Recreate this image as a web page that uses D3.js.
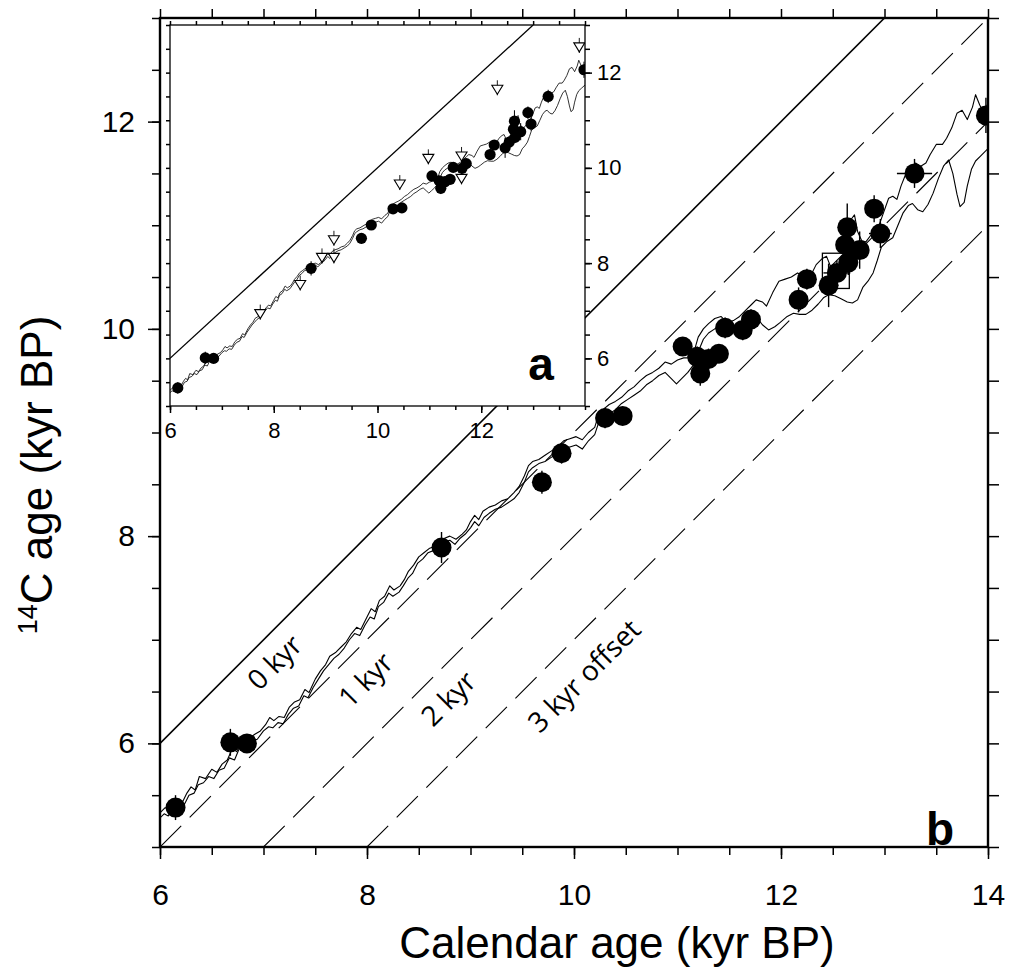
<!DOCTYPE html>
<html>
<head>
<meta charset="utf-8">
<script src="https://cdn.jsdelivr.net/npm/d3@7"></script>
<style>
  body { margin: 0; background: #fff; }
  svg { display: block; }
</style>
</head>
<body>
<svg id="chart" width="1011" height="967"></svg>
<script>
// calibration curves, [calendar kyr BP, 14C kyr BP]
const curveA = [
  [6.00,5.33],[6.05,5.38],[6.10,5.35],[6.16,5.42],[6.22,5.44],[6.26,5.52],[6.30,5.58],[6.34,5.55],
  [6.38,5.68],[6.44,5.66],[6.50,5.75],[6.55,5.72],[6.60,5.80],[6.65,5.84],[6.70,5.95],[6.74,5.92],
  [6.80,6.03],[6.86,6.05],[6.92,6.09],[6.97,6.12],[7.02,6.18],[7.06,6.25],[7.10,6.22],[7.15,6.26],
  [7.20,6.25],[7.25,6.35],[7.30,6.40],[7.35,6.42],[7.40,6.52],[7.44,6.49],[7.50,6.62],[7.55,6.70],
  [7.60,6.76],[7.64,6.84],[7.70,6.88],[7.75,6.93],[7.80,6.98],[7.85,7.06],[7.90,7.12],[7.94,7.10],
  [8.00,7.22],[8.04,7.30],[8.08,7.27],[8.12,7.38],[8.17,7.42],[8.22,7.52],[8.26,7.48],[8.32,7.52],
  [8.36,7.58],[8.40,7.66],[8.45,7.72],[8.50,7.80],[8.55,7.84],[8.60,7.88],[8.65,7.90],[8.70,7.96],
  [8.75,7.98],[8.80,8.00],[8.86,7.97],[8.92,8.02],[8.96,8.06],[9.00,8.14],[9.04,8.20],[9.08,8.16],
  [9.12,8.24],[9.18,8.28],[9.24,8.30],[9.30,8.34],[9.36,8.36],[9.42,8.42],[9.47,8.48],[9.52,8.58],
  [9.56,8.68],[9.60,8.72],[9.66,8.74],[9.72,8.78],[9.78,8.82],[9.84,8.86],[9.90,8.92],[9.96,8.94],
  [10.02,8.96],[10.08,8.93],[10.14,9.00],[10.20,9.05],[10.24,9.18],[10.28,9.22],[10.34,9.27],[10.40,9.30],
  [10.46,9.34],[10.52,9.40],[10.58,9.44],[10.64,9.50],[10.70,9.55],[10.76,9.58],[10.82,9.62],[10.88,9.68],
  [10.94,9.66],[11.00,9.70],[11.06,9.72],[11.12,9.72],[11.16,9.78],[11.20,9.92],[11.25,10.00],[11.30,10.05],
  [11.36,10.10],[11.42,10.12],[11.48,10.06],[11.54,10.08],[11.60,10.12],[11.66,10.18],[11.72,10.24],[11.76,10.28],
  [11.82,10.26],[11.86,10.22],[11.92,10.35],[11.98,10.46],[12.04,10.48],[12.10,10.50],[12.16,10.54],[12.22,10.51],
  [12.28,10.50],[12.34,10.62],[12.40,10.68],[12.44,10.70],[12.48,10.60],[12.54,10.66],[12.60,10.72],[12.64,10.76],
  [12.68,11.06],[12.71,11.10],[12.74,10.94],[12.78,10.85],[12.82,10.84],[12.88,10.92],[12.94,10.98],[12.99,11.12],
  [13.04,11.26],[13.08,11.28],[13.12,11.25],[13.16,11.38],[13.20,11.48],[13.25,11.55],[13.30,11.60],[13.35,11.57],
  [13.40,11.60],[13.44,11.68],[13.50,11.78],[13.56,11.78],[13.60,11.84],[13.65,11.94],[13.70,12.08],[13.75,12.11],
  [13.80,12.02],[13.85,12.14],[13.88,12.26],[13.92,12.16],[13.96,12.08],[14.00,12.18]
];
const curveB = [
  [6.00,5.28],[6.04,5.32],[6.08,5.30],[6.13,5.36],[6.18,5.35],[6.24,5.42],[6.28,5.50],[6.33,5.52],
  [6.37,5.60],[6.42,5.62],[6.47,5.68],[6.52,5.66],[6.57,5.74],[6.62,5.76],[6.67,5.86],[6.72,5.84],
  [6.77,5.96],[6.82,5.98],[6.88,6.02],[6.94,6.04],[7.00,6.12],[7.05,6.16],[7.09,6.15],[7.14,6.20],
  [7.19,6.19],[7.24,6.28],[7.29,6.34],[7.34,6.36],[7.39,6.46],[7.43,6.44],[7.48,6.54],[7.53,6.62],
  [7.58,6.70],[7.63,6.76],[7.68,6.82],[7.73,6.86],[7.78,6.92],[7.83,7.00],[7.88,7.06],[7.93,7.04],
  [7.98,7.14],[8.03,7.22],[8.07,7.20],[8.11,7.32],[8.16,7.36],[8.21,7.45],[8.25,7.42],[8.31,7.46],
  [8.35,7.52],[8.40,7.60],[8.44,7.64],[8.49,7.74],[8.54,7.78],[8.59,7.84],[8.64,7.86],[8.69,7.90],
  [8.74,7.94],[8.80,7.96],[8.85,7.92],[8.90,7.98],[8.95,8.02],[9.00,8.08],[9.04,8.14],[9.08,8.10],
  [9.13,8.18],[9.18,8.22],[9.24,8.26],[9.30,8.28],[9.36,8.32],[9.42,8.36],[9.47,8.42],[9.52,8.52],
  [9.56,8.62],[9.60,8.66],[9.66,8.70],[9.72,8.72],[9.78,8.76],[9.84,8.80],[9.90,8.84],[9.96,8.86],
  [10.02,8.88],[10.08,8.84],[10.14,8.92],[10.20,8.98],[10.24,9.10],[10.28,9.14],[10.34,9.18],[10.40,9.22],
  [10.46,9.28],[10.52,9.32],[10.58,9.36],[10.64,9.40],[10.70,9.46],[10.76,9.50],[10.82,9.55],[10.88,9.58],
  [10.94,9.52],[10.99,9.47],[11.04,9.52],[11.10,9.58],[11.16,9.66],[11.20,9.78],[11.25,9.90],[11.30,9.96],
  [11.36,10.00],[11.42,10.02],[11.48,9.98],[11.54,10.00],[11.60,10.04],[11.66,10.10],[11.72,10.14],[11.76,10.12],
  [11.82,10.04],[11.88,9.99],[11.94,10.02],[11.99,10.06],[12.06,10.12],[12.12,10.15],[12.18,10.14],[12.24,10.14],
  [12.30,10.18],[12.36,10.24],[12.41,10.30],[12.46,10.33],[12.52,10.32],[12.58,10.29],[12.64,10.26],[12.69,10.25],
  [12.74,10.28],[12.79,10.40],[12.84,10.46],[12.89,10.54],[12.93,10.66],[12.97,10.79],[13.02,10.84],[13.08,10.88],
  [13.13,11.00],[13.18,11.12],[13.23,11.19],[13.27,11.21],[13.32,11.15],[13.37,11.13],[13.42,11.20],[13.47,11.31],
  [13.52,11.45],[13.57,11.57],[13.62,11.63],[13.66,11.50],[13.70,11.30],[13.73,11.18],[13.77,11.22],[13.80,11.38],
  [13.84,11.54],[13.88,11.62],[13.93,11.67],[14.00,11.74]
];

// dated samples (filled circles)
const dotCal  = [6.15, 6.68, 6.84, 8.72, 9.69, 9.88, 10.30, 10.47, 11.05, 11.22, 11.19, 11.30, 11.40, 11.46,
                 11.63, 11.71, 12.17, 12.25, 12.46, 12.54, 12.65, 12.62, 12.76, 12.64, 12.90, 12.96, 13.29, 13.98];
const dotC14  = [5.38, 6.01, 6.00, 7.89, 8.52, 8.80, 9.14, 9.16, 9.83, 9.57, 9.73, 9.71, 9.76, 10.01,
                 9.99, 10.09, 10.28, 10.48, 10.42, 10.54, 10.64, 10.81, 10.76, 10.98, 11.16, 10.92, 11.50, 12.06];
const dotErrY = [0.12, 0.13, 0.08, 0.15, 0.11, 0.10, 0.10, 0.08, 0.08, 0.12, 0.10, 0.10, 0.08, 0.10,
                 0.10, 0.10, 0.12, 0.10, 0.21, 0.12, 0.12, 0.10, 0.18, 0.23, 0.13, 0.14, 0.14, 0.17];
const dotErrX = [0, 0, 0, 0, 0, 0, 0, 0, 0, 0, 0, 0, 0, 0,
                 0, 0, 0, 0, 0, 0.13, 0, 0, 0, 0, 0, 0.11, 0.17, 0];

// inset only: open triangles
const triCal = [7.74, 8.51, 8.93, 9.16, 9.16, 10.43, 10.98, 11.62, 11.62, 12.31, 13.89];
const triC14 = [6.94, 7.55, 8.12, 8.12, 8.49, 9.66, 10.20, 10.25, 9.78, 11.65, 12.54];

// boxed sample
const boxCal = [12.40, 12.66];
const boxC14 = [10.39, 10.73];

// offset lines
const offsets = [0, 1, 2, 3];
const offsetLabels = ["0 kyr", "1 kyr", "2 kyr", "3 kyr offset"];
const offsetLabelCal = [7.10, 7.98, 8.78, 10.09];
const offsetLabelC14 = [6.79, 6.62, 6.44, 6.66];

// ticks
const xMajor = [6, 8, 10, 12, 14];
const yMajor = [6, 8, 10, 12];
const insetXLabels = [6, 8, 10, 12];
const insetYLabels = [6, 8, 10, 12];

const FONT = "'Liberation Sans', Arial, Helvetica, sans-serif";
const svg = d3.select("#chart");

const x = d3.scaleLinear().domain([6, 14]).range([160, 988]);
const y = d3.scaleLinear().domain([5, 13]).range([847, 18]);
const ix = d3.scaleLinear().domain([6, 14]).range([170, 585]);
const iy = d3.scaleLinear().domain([5, 13]).range([406, 25]);

const halfX = d3.range(6, 14.001, 0.5);
const halfY = d3.range(5, 13.001, 0.5);

const dots = dotCal.map((c, i) => ({cal: c, c14: dotC14[i], ey: dotErrY[i], ex: dotErrX[i]}));
const tris = triCal.map((c, i) => ({cal: c, c14: triC14[i]}));

svg.append("defs").append("clipPath").attr("id", "clipMain")
  .append("rect")
    .attr("x", x(6)).attr("y", y(13))
    .attr("width", x(14) - x(6)).attr("height", y(5) - y(13));

// ---------- main panel ----------
const main = svg.append("g").attr("clip-path", "url(#clipMain)");

main.selectAll("line.offset")
  .data(offsets)
  .join("line")
    .attr("class", "offset")
    .attr("x1", o => x(Math.max(6, 5 + o)))
    .attr("y1", o => y(Math.max(6, 5 + o) - o))
    .attr("x2", o => x(Math.min(14, 13 + o)))
    .attr("y2", o => y(Math.min(14, 13 + o) - o))
    .attr("stroke", "#000")
    .attr("stroke-width", o => o === 0 ? 1.6 : 1.1)
    .attr("stroke-dasharray", o => o === 0 ? null : "30,12");

const lineMain = d3.line().x(d => x(d[0])).y(d => y(d[1]));
main.selectAll("path.curve")
  .data([curveA, curveB])
  .join("path")
    .attr("class", "curve")
    .attr("d", lineMain)
    .attr("fill", "none")
    .attr("stroke", "#000")
    .attr("stroke-width", 1.1)
    .attr("stroke-linejoin", "round");

main.selectAll("line.ey")
  .data(dots)
  .join("line")
    .attr("class", "ey")
    .attr("x1", d => x(d.cal)).attr("x2", d => x(d.cal))
    .attr("y1", d => y(d.c14 - d.ey)).attr("y2", d => y(d.c14 + d.ey))
    .attr("stroke", "#000").attr("stroke-width", 1.4);

main.selectAll("line.ex")
  .data(dots.filter(d => d.ex > 0))
  .join("line")
    .attr("class", "ex")
    .attr("y1", d => y(d.c14)).attr("y2", d => y(d.c14))
    .attr("x1", d => x(d.cal - d.ex)).attr("x2", d => x(d.cal + d.ex))
    .attr("stroke", "#000").attr("stroke-width", 1.4);

main.selectAll("circle")
  .data(dots)
  .join("circle")
    .attr("cx", d => x(d.cal))
    .attr("cy", d => y(d.c14))
    .attr("r", 10)
    .attr("fill", "#000");

main.append("rect")
  .attr("x", x(boxCal[0])).attr("y", y(boxC14[1]))
  .attr("width", x(boxCal[1]) - x(boxCal[0]))
  .attr("height", y(boxC14[0]) - y(boxC14[1]))
  .attr("fill", "none").attr("stroke", "#000").attr("stroke-width", 1.3);

svg.append("g")
  .selectAll("text")
  .data(offsetLabels)
  .join("text")
    .attr("transform", (t, i) => `translate(${x(offsetLabelCal[i])},${y(offsetLabelC14[i])}) rotate(-45)`)
    .attr("text-anchor", "middle")
    .attr("dominant-baseline", "central")
    .attr("font-family", "'Open Sans', sans-serif")
    .attr("font-size", 28)
    .text(t => t);

// main axes
function styleAxis(g, size) {
  g.select(".domain").remove();
  g.selectAll(".tick line").attr("stroke", "#000").attr("stroke-width", 1.5);
  g.selectAll(".tick text").attr("font-family", FONT).attr("font-size", size).attr("fill", "#000");
}
const none = () => "";

svg.append("g").attr("transform", `translate(0,${y(5)})`)
  .call(d3.axisBottom(x).tickValues(halfX).tickSize(8).tickFormat(none)).call(styleAxis, 30);
svg.append("g").attr("transform", `translate(0,${y(5)})`)
  .call(d3.axisBottom(x).tickValues(xMajor).tickSize(12).tickPadding(25).tickFormat(d3.format("d"))).call(styleAxis, 30);
svg.append("g").attr("transform", `translate(${x(6)},0)`)
  .call(d3.axisLeft(y).tickValues(halfY).tickSize(8).tickFormat(none)).call(styleAxis, 30);
svg.append("g").attr("transform", `translate(${x(6)},0)`)
  .call(d3.axisLeft(y).tickValues(yMajor).tickSize(12).tickPadding(13).tickFormat(d3.format("d"))).call(styleAxis, 30);
svg.append("g").attr("transform", `translate(0,${y(13)})`)
  .call(d3.axisTop(x).tickValues(halfX).tickSize(9).tickFormat(none)).call(styleAxis, 30);
svg.append("g").attr("transform", `translate(${x(14)},0)`)
  .call(d3.axisRight(y).tickValues(halfY).tickSize(11).tickFormat(none)).call(styleAxis, 30);

svg.append("rect")
  .attr("x", x(6)).attr("y", y(13))
  .attr("width", x(14) - x(6)).attr("height", y(5) - y(13))
  .attr("fill", "none").attr("stroke", "#000").attr("stroke-width", 2.4);

// ---------- inset ----------
svg.append("defs").append("clipPath").attr("id", "clipInset")
  .append("rect")
    .attr("x", ix(6)).attr("y", iy(13))
    .attr("width", ix(14) - ix(6)).attr("height", iy(5) - iy(13));

svg.append("rect")
  .attr("x", ix(6)).attr("y", iy(13))
  .attr("width", ix(14) - ix(6)).attr("height", iy(5) - iy(13))
  .attr("fill", "#fff");

const inset = svg.append("g").attr("clip-path", "url(#clipInset)");

inset.append("line")
  .attr("x1", ix(6)).attr("y1", iy(6))
  .attr("x2", ix(13)).attr("y2", iy(13))
  .attr("stroke", "#000").attr("stroke-width", 1.3);

const lineInset = d3.line().x(d => ix(d[0])).y(d => iy(d[1]));
inset.selectAll("path.curve")
  .data([curveA, curveB])
  .join("path")
    .attr("class", "curve")
    .attr("d", lineInset)
    .attr("fill", "none")
    .attr("stroke", "#000")
    .attr("stroke-width", 0.8)
    .attr("stroke-linejoin", "round");

inset.selectAll("line.ey")
  .data(dots)
  .join("line")
    .attr("class", "ey")
    .attr("x1", d => ix(d.cal)).attr("x2", d => ix(d.cal))
    .attr("y1", d => iy(d.c14 - d.ey)).attr("y2", d => iy(d.c14 + d.ey))
    .attr("stroke", "#000").attr("stroke-width", 1);

inset.selectAll("circle")
  .data(dots)
  .join("circle")
    .attr("cx", d => ix(d.cal))
    .attr("cy", d => iy(d.c14))
    .attr("r", 5.6)
    .attr("fill", "#000");

inset.selectAll("line.tey")
  .data(tris)
  .join("line")
    .attr("class", "tey")
    .attr("x1", d => ix(d.cal)).attr("x2", d => ix(d.cal))
    .attr("y1", d => iy(d.c14) - 9).attr("y2", d => iy(d.c14) + 6)
    .attr("stroke", "#000").attr("stroke-width", 0.9);

inset.selectAll("path.tri")
  .data(tris)
  .join("path")
    .attr("class", "tri")
    .attr("transform", d => `translate(${ix(d.cal)},${iy(d.c14)})`)
    .attr("d", "M-5.5,-4L5.5,-4L0,5Z")
    .attr("fill", "#fff")
    .attr("stroke", "#000")
    .attr("stroke-width", 1.1);

svg.append("g").attr("transform", `translate(0,${iy(5)})`)
  .call(d3.axisBottom(ix).tickValues(halfX).tickSize(4).tickFormat(none)).call(styleAxis, 22);
svg.append("g").attr("transform", `translate(0,${iy(5)})`)
  .call(d3.axisBottom(ix).tickValues(insetXLabels).tickSize(7).tickPadding(9).tickFormat(d3.format("d"))).call(styleAxis, 22);
svg.append("g").attr("transform", `translate(0,${iy(13)})`)
  .call(d3.axisTop(ix).tickValues(halfX).tickSize(4).tickFormat(none)).call(styleAxis, 22);
svg.append("g").attr("transform", `translate(${ix(6)},0)`)
  .call(d3.axisLeft(iy).tickValues(halfY).tickSize(4).tickFormat(none)).call(styleAxis, 22);
svg.append("g").attr("transform", `translate(${ix(14)},0)`)
  .call(d3.axisRight(iy).tickValues(halfY).tickSize(5).tickFormat(none)).call(styleAxis, 22);
svg.append("g").attr("transform", `translate(${ix(14)},0)`)
  .call(d3.axisRight(iy).tickValues(insetYLabels).tickSize(7).tickPadding(5).tickFormat(d3.format("d"))).call(styleAxis, 22);

svg.append("rect")
  .attr("x", ix(6)).attr("y", iy(13))
  .attr("width", ix(14) - ix(6)).attr("height", iy(5) - iy(13))
  .attr("fill", "none").attr("stroke", "#000").attr("stroke-width", 1.3);

// panel letters
svg.append("text")
  .attr("x", 541).attr("y", 380)
  .attr("text-anchor", "middle")
  .attr("font-family", FONT).attr("font-weight", "bold").attr("font-size", 46)
  .text("a");
svg.append("text")
  .attr("x", 940).attr("y", 845)
  .attr("text-anchor", "middle")
  .attr("font-family", FONT).attr("font-weight", "bold").attr("font-size", 46)
  .text("b");

// axis titles
svg.append("text")
  .attr("x", 617).attr("y", 958)
  .attr("text-anchor", "middle")
  .attr("font-family", FONT).attr("font-size", 44)
  .text("Calendar age (kyr BP)");

const yt = svg.append("text")
  .attr("transform", "translate(52,475) rotate(-90)")
  .attr("text-anchor", "middle")
  .attr("font-family", FONT).attr("font-size", 44);
yt.append("tspan").attr("font-size", 27).attr("dy", -15).text("14");
yt.append("tspan").attr("dy", 15).text("C age (kyr BP)");
</script>
</body>
</html>
